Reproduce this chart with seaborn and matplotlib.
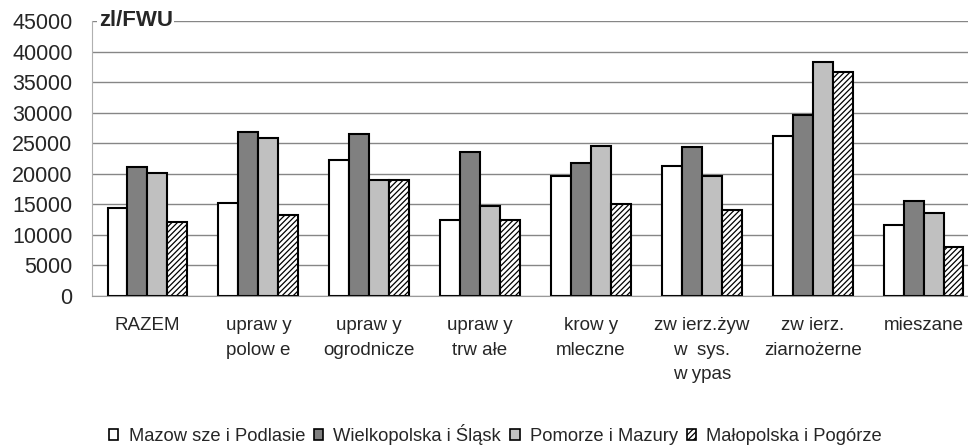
import matplotlib
matplotlib.use("Agg")
import matplotlib.pyplot as plt
import seaborn as sns
import pandas as pd
from matplotlib.patches import Patch

categories = ["RAZEM", "upraw y\npolow e", "upraw y\nogrodnicze", "upraw y\ntrw ałe",
              "krow y\nmleczne", "zw ierz.żyw\nw  sys.\nw ypas", "zw ierz.\nziarnożerne", "mieszane"]
regions = ["Mazow sze i Podlasie", "Wielkopolska i Śląsk", "Pomorze i Mazury", "Małopolska i Pogórze"]
mazowsze = [14400, 15300, 22200, 12400, 19600, 21300, 26200, 11600]
wielkopolska = [21100, 26800, 26500, 23600, 21700, 24400, 29600, 15550]
pomorze = [20100, 25900, 19000, 14700, 24500, 19600, 38300, 13600]
malopolska = [12100, 13200, 19000, 12400, 15000, 14100, 36650, 8000]
yticks = [0, 5000, 10000, 15000, 20000, 25000, 30000, 35000, 40000, 45000]

series = [mazowsze, wielkopolska, pomorze, malopolska]
rows = []
for reg, vals in zip(regions, series):
    for cat, v in zip(categories, vals):
        rows.append({"cat": cat, "region": reg, "value": v})
df = pd.DataFrame(rows)

sns.set_style("white")
plt.rcParams['font.family'] = ['Liberation Sans', 'DejaVu Sans']
plt.rcParams['hatch.linewidth'] = 0.9

fig = plt.figure(figsize=(9.68, 4.45), dpi=100)
# category width ~110.85 px, first boundary at x=92
ax = fig.add_axes([92/968, 1-296/445, 887/968, 275/445])

colors = ["#ffffff", "#808080", "#c0c0c0", "#ffffff"]
sns.barplot(data=df, x="cat", y="value", hue="region", hue_order=regions, order=categories,
            palette=colors, width=0.72, edgecolor="black", linewidth=1.5, ax=ax,
            legend=False, saturation=1)
for bar in ax.containers[3]:
    bar.set_hatch("//////")

ax.set_ylim(0, 45000)
ax.set_xlim(-0.5, len(categories) - 0.5)
ax.set_yticks(yticks)
ax.set_yticklabels([str(t) for t in yticks], fontsize=15.5)
ax.yaxis.grid(True, color="#868686", linewidth=1)
ax.set_axisbelow(True)
ax.set_xlabel("")
ax.set_ylabel("")
ax.set_xticks(range(len(categories)))
ax.set_xticklabels(categories, fontsize=13.5, linespacing=1.6, va="top")
ax.tick_params(axis="x", which="major", length=0, pad=15)
ax.set_xticks([i - 0.5 for i in range(len(categories) + 1)], minor=True)
ax.tick_params(axis="x", which="minor", length=5, color="#9a9a9a", width=1, direction="out")
ax.tick_params(axis="y", length=6, color="#9a9a9a", width=1, direction="out", pad=8)
for s in ["top", "right"]:
    ax.spines[s].set_visible(False)
ax.spines["left"].set_color("#b0b0b0")
ax.spines["bottom"].set_color("#9a9a9a")

ax.text(-0.44, 45000, "zl/FWU", fontsize=16, fontweight="bold", va="center", ha="left",
        bbox=dict(facecolor="white", edgecolor="none", pad=1))

handles = [Patch(facecolor=c, edgecolor="black", linewidth=1.2) for c in colors]
handles[3].set_hatch("//////")
fig.legend(handles, regions, loc="center", bbox_to_anchor=(0.512, 0.024), ncol=4, frameon=False,
           fontsize=13.2, handlelength=0.5, handleheight=0.5, handletextpad=0.55,
           columnspacing=0.5, borderaxespad=0)

fig.savefig("out.png", dpi=100)
